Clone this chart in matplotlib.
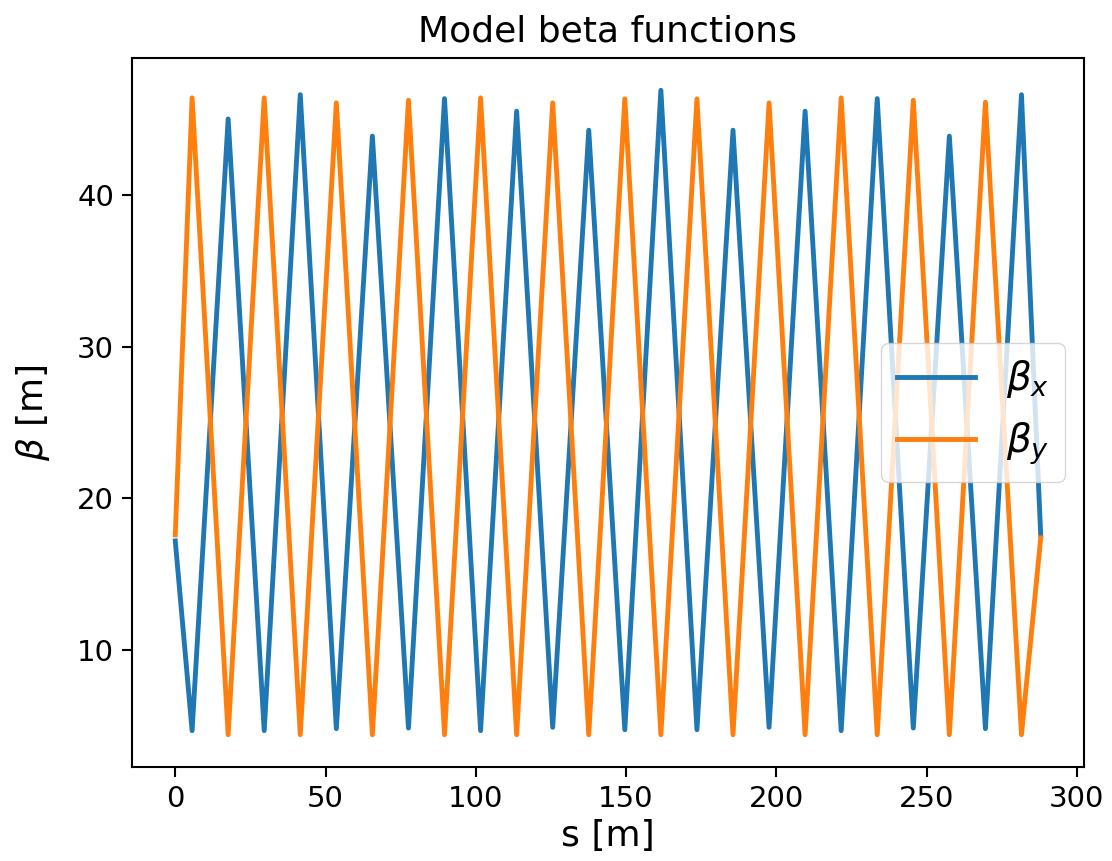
import matplotlib
matplotlib.use('Agg')
import matplotlib.pyplot as plt

# Twiss output sampled at the lattice boundaries (quad centres plus ring ends)
s_pos = [0.0, 5.6, 17.6, 29.6, 41.6, 53.6, 65.6, 77.6, 89.6, 101.6, 113.6,
         125.6, 137.6, 149.6, 161.6, 173.6, 185.6, 197.6, 209.6, 221.6,
         233.6, 245.6, 257.6, 269.6, 281.6, 288.0]

beta_x = [17.2,
          4.71, 44.98, 4.71, 46.58, 4.84, 43.85, 4.88, 46.32,
          4.71, 45.49, 4.93, 44.24, 4.77, 46.87, 4.77, 44.24,
          4.93, 45.49, 4.71, 46.32, 4.88, 43.85, 4.84, 46.58,
          17.6]

beta_y = [17.6,
          46.37, 4.44, 46.37, 4.44, 46.04, 4.44, 46.21, 4.44,
          46.37, 4.44, 46.04, 4.44, 46.30, 4.44, 46.30, 4.44,
          46.04, 4.44, 46.37, 4.44, 46.21, 4.44, 46.08, 4.44,
          17.4]

LW = 3.5

fig = plt.figure(figsize=(11.12, 8.61), dpi=100)
ax = fig.add_axes([0.1187, 0.1092, 0.8561, 0.8234])

ax.plot(s_pos, beta_x, color='#1f77b4', lw=LW, label=r'$\beta_x$')
ax.plot(s_pos, beta_y, color='#ff7f0e', lw=LW, label=r'$\beta_y$')

ax.set_title('Model beta functions', fontsize=26, pad=12)
ax.set_xlabel('s [m]', fontsize=26, labelpad=4)
ax.set_ylabel(r'$\beta$ [m]', fontsize=26, labelpad=18)
ax.set_xticks([0, 50, 100, 150, 200, 250, 300])
ax.set_yticks([10, 20, 30, 40])
ax.tick_params(labelsize=21, length=7, width=1.5, pad=6)
for sp in ax.spines.values():
    sp.set_linewidth(1.5)

ax.legend(loc='center right', fontsize=28, handlelength=2.0)

fig.savefig('out.png', dpi=100)
